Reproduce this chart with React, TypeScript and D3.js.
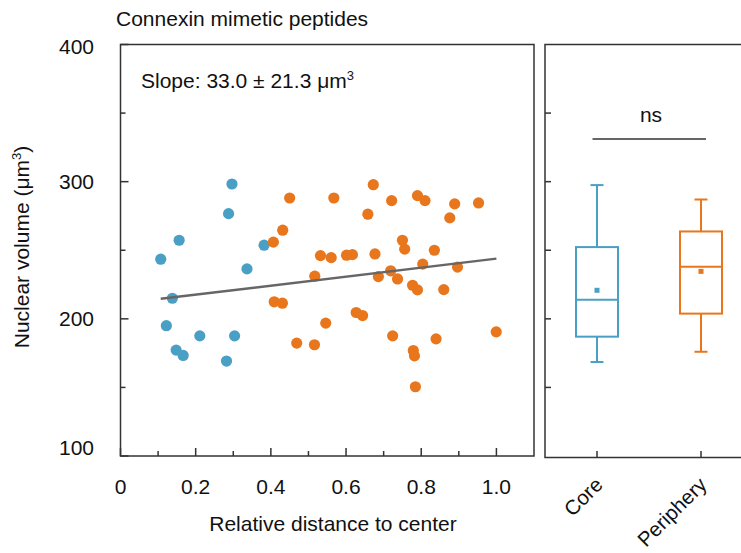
import React from "react";
import * as d3 from "d3";

// scatter: relative distance to center vs nuclear volume
const coreX = [0.2965, 0.2875, 0.156, 0.107, 0.382, 0.3365, 0.138, 0.122, 0.211, 0.3035, 0.148, 0.1667, 0.282];
const coreY = [298.3, 276.7, 257.3, 243.5, 253.7, 236.4, 215, 195, 187.6, 187.6, 177.2, 173.3, 169.2];

const periX = [
  0.4067, 0.4315, 0.45, 0.409, 0.4307, 0.4688, 0.5168, 0.516, 0.532, 0.5605, 0.546, 0.5675, 0.6013, 0.617,
  0.627, 0.644, 0.6725, 0.658, 0.677, 0.686, 0.7187, 0.737, 0.7213, 0.724, 0.75, 0.756, 0.79, 0.81, 0.777,
  0.79, 0.804, 0.779, 0.782, 0.7845, 0.835, 0.86, 0.8395, 0.876, 0.889, 0.8965, 0.9525, 0.9995,
];
const periY = [
  255.9, 264.6, 288.1, 212.4, 211.4, 182.3, 231.1, 181.1, 246.1, 244.6, 196.9, 288.1, 246.4, 246.8, 204.6,
  202.4, 297.8, 276.3, 247.3, 230.8, 235, 229.1, 286.2, 187.6, 257.3, 250.8, 289.8, 286.2, 224.5, 221.1,
  239.9, 176.9, 173, 150.5, 250, 221.3, 185.4, 273.6, 283.8, 237.7, 284.5, 190.5,
];

// fitted line end points
const fitX = [0.107, 1.0];
const fitY = [214.6, 243.9];

// box plot summaries
const groups = ["Core", "Periphery"];
const whiskerLow = [168.5, 176];
const q1 = [187, 203.8];
const median = [214, 238];
const q3 = [252.3, 263.7];
const whiskerHigh = [297.5, 287];
const means = [220.8, 234.6];

const xTicks = [0, 0.2, 0.4, 0.6, 0.8, 1.0];
const xMinor = [0.1, 0.3, 0.5, 0.7, 0.9];
const yTicks = [100, 200, 300, 400];
const yMinor = [150, 250, 350];
const boxTicks = [150, 200, 250, 300, 350];

const BLUE = "#4a9fc4";
const ORANGE = "#e8761c";
const INK = "#333";
const FONT = "'Liberation Sans', Arial, sans-serif";

export default function App() {
  const width = 741;
  const height = 553;

  const x = d3.scaleLinear().domain([0, 1.1]).range([120.5, 534]);
  const y = d3.scaleLinear().domain([100, 400]).range([456, 44.5]);
  const g = d3.scalePoint<string>().domain(groups).range([545, 753]).padding(0.5);
  const colors = [BLUE, ORANGE];

  const fitLine = d3
    .line<number>()
    .x((d) => x(d))
    .y((_, i) => y(fitY[i]));

  // end labels are kept inside the frame
  const yLabelPos = (v: number) => Math.min(Math.max(y(v) + 7, 54), 455);

  return (
    <svg
      width={width}
      height={height}
      style={{ position: "absolute", left: 0, top: 0, background: "#fff", fontFamily: FONT }}
    >
      <text x={116} y={26} fontSize={21} fill="#111">
        Connexin mimetic peptides
      </text>

      {/* left panel frame */}
      <rect x={x(0)} y={y(400)} width={x(1.1) - x(0)} height={y(100) - y(400)} fill="none" stroke={INK} strokeWidth={1.5} />
      {xTicks.map((t) => (
        <line key={"xt" + t} x1={x(t)} x2={x(t)} y1={y(100)} y2={y(100) - 8} stroke={INK} strokeWidth={1.5} />
      ))}
      {xMinor.map((t) => (
        <line key={"xm" + t} x1={x(t)} x2={x(t)} y1={y(100)} y2={y(100) - 5} stroke={INK} strokeWidth={1.5} />
      ))}
      {yTicks.map((t) => (
        <line key={"yt" + t} x1={x(0)} x2={x(0) + 8} y1={y(t)} y2={y(t)} stroke={INK} strokeWidth={1.5} />
      ))}
      {yMinor.map((t) => (
        <line key={"ym" + t} x1={x(0)} x2={x(0) + 5} y1={y(t)} y2={y(t)} stroke={INK} strokeWidth={1.5} />
      ))}
      {xTicks.map((t) => (
        <text key={"xl" + t} x={x(t)} y={494} fontSize={21} textAnchor="middle" fill="#111">
          {t === 0 ? "0" : d3.format(".1f")(t)}
        </text>
      ))}
      {yTicks.map((t) => (
        <text key={"yl" + t} x={94} y={yLabelPos(t)} fontSize={21} textAnchor="end" fill="#111">
          {t}
        </text>
      ))}
      <text x={333} y={531} fontSize={21} textAnchor="middle" fill="#111">
        Relative distance to center
      </text>
      <text transform={`translate(29,247) rotate(-90)`} fontSize={21} textAnchor="middle" fill="#111">
        Nuclear volume (μm<tspan dy={-8} fontSize={13}>3</tspan>
        <tspan dy={8}>)</tspan>
      </text>
      <text x={141} y={88} fontSize={21} fill="#111">
        Slope: 33.0 ± 21.3 μm<tspan dy={-8} fontSize={13}>3</tspan>
      </text>

      {coreX.map((v, i) => (
        <circle key={"c" + i} cx={x(v)} cy={y(coreY[i])} r={5.6} fill={BLUE} />
      ))}
      {periX.map((v, i) => (
        <circle key={"p" + i} cx={x(v)} cy={y(periY[i])} r={5.6} fill={ORANGE} />
      ))}
      <path d={fitLine(fitX) ?? ""} fill="none" stroke="#666" strokeWidth={2.5} />

      {/* right panel */}
      <rect x={545} y={y(400)} width={230} height={y(100) - y(400) + 1.5} fill="none" stroke={INK} strokeWidth={1.5} />
      {boxTicks.map((t) => (
        <line key={"bt" + t} x1={545} x2={551} y1={y(t)} y2={y(t)} stroke={INK} strokeWidth={1.5} />
      ))}
      {groups.map((k) => (
        <line key={"gt" + k} x1={g(k)!} x2={g(k)!} y1={y(100) + 1.5} y2={y(100) - 5} stroke={INK} strokeWidth={1.5} />
      ))}
      {groups.map((k) => (
        <text
          key={"gl" + k}
          transform={`translate(${g(k)! + 7},${486}) rotate(-45)`}
          fontSize={20.5}
          textAnchor="end"
          fill="#111"
        >
          {k}
        </text>
      ))}
      {groups.map((k, i) => {
        const cx = g(k)!;
        const c = colors[i];
        const bw = 21;
        const cap = 6.5;
        return (
          <g key={"box" + k} stroke={c} strokeWidth={2} fill="none">
            <line x1={cx} x2={cx} y1={y(whiskerHigh[i])} y2={y(q3[i])} />
            <line x1={cx} x2={cx} y1={y(q1[i])} y2={y(whiskerLow[i])} />
            <line x1={cx - cap} x2={cx + cap} y1={y(whiskerHigh[i])} y2={y(whiskerHigh[i])} />
            <line x1={cx - cap} x2={cx + cap} y1={y(whiskerLow[i])} y2={y(whiskerLow[i])} />
            <rect x={cx - bw} y={y(q3[i])} width={bw * 2} height={y(q1[i]) - y(q3[i])} />
            <line x1={cx - bw} x2={cx + bw} y1={y(median[i])} y2={y(median[i])} />
            <rect x={cx - 2.5} y={y(means[i]) - 2.5} width={5} height={5} fill={c} stroke="none" />
          </g>
        );
      })}
      <line x1={g("Core")! - 4.5} x2={g("Periphery")! + 5} y1={139} y2={139} stroke={INK} strokeWidth={1.5} />
      <text x={651} y={122} fontSize={21} textAnchor="middle" fill="#111">
        ns
      </text>
    </svg>
  );
}
